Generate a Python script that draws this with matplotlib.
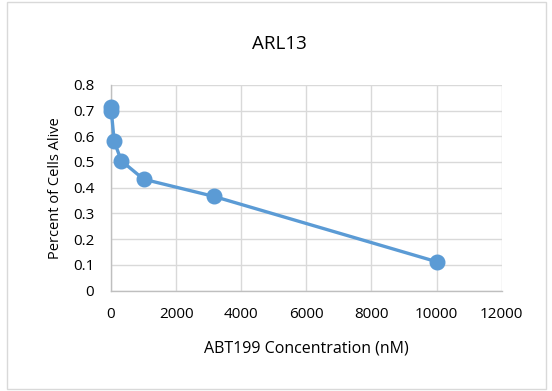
import matplotlib.pyplot as plt
from matplotlib.patches import Rectangle

plt.rcParams['font.family'] = ['Open Sans', 'DejaVu Sans']

# ABT199 concentration (nM) vs fraction of cells alive
conc = [0, 10, 100, 316, 1000, 3162, 10000]
alive = [0.715, 0.70, 0.58, 0.505, 0.433, 0.366, 0.112]

xticks = [0, 2000, 4000, 6000, 8000, 10000, 12000]
yticks = [0, 0.1, 0.2, 0.3, 0.4, 0.5, 0.6, 0.7, 0.8]

fig = plt.figure(figsize=(5.52, 3.91), dpi=100)
ax = fig.add_axes([0.201, 0.257, 0.708, 0.526])

# chart-area border like Excel
fig.patches.append(Rectangle((7 / 552, 2 / 391), 539 / 552, 387 / 391,
                             transform=fig.transFigure, fill=False,
                             edgecolor='#D9D9D9', lw=1))

ax.plot(conc, alive, color='#5B9BD5', lw=2.4, marker='o', ms=10.5,
        zorder=3, clip_on=False)

ax.set_xlim(0, 12000)
ax.set_ylim(0, 0.8)
ax.set_xticks(xticks)
ax.set_xticklabels([str(t) for t in xticks])
ax.set_yticks(yticks)
ax.set_yticklabels(['0'] + [f'{t:.1f}' for t in yticks[1:]])

ax.grid(True, color='#D9D9D9', lw=1)
ax.set_axisbelow(True)
for s in ['top', 'right']:
    ax.spines[s].set_visible(False)
for s in ['left', 'bottom']:
    ax.spines[s].set_color('#BFBFBF')
    ax.spines[s].set_linewidth(1)

ax.tick_params(axis='both', length=0, labelsize=11, labelcolor='#000000')
ax.tick_params(axis='x', pad=12)
ax.tick_params(axis='y', pad=12)

# title is centred on the whole chart area, not the plot area
ax.set_title('ARL13', fontsize=13.5, pad=26, x=0.432)
ax.set_xlabel('ABT199 Concentration (nM)', fontsize=11.5)
ax.set_ylabel('Percent of Cells Alive', fontsize=10.5)
ax.xaxis.set_label_coords(0.5, -0.245)
ax.yaxis.set_label_coords(-0.122, 0.5)

fig.savefig('out.png', dpi=100)
